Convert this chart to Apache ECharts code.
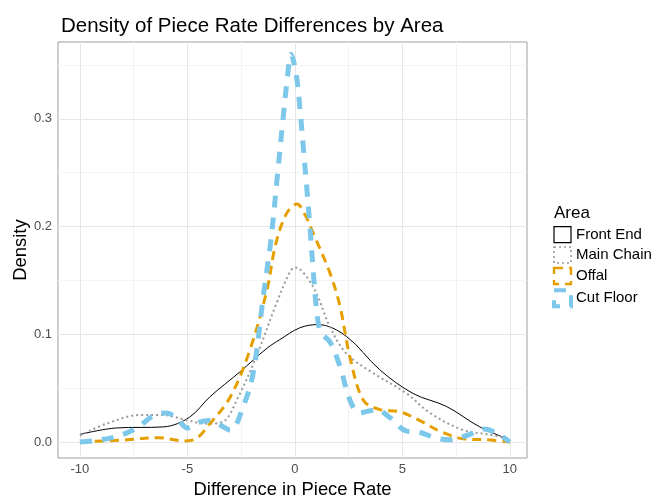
<!DOCTYPE html>
<html>
<head>
<meta charset="utf-8">
<script src="https://cdn.jsdelivr.net/npm/echarts@6/dist/echarts.min.js"></script>
<style>html,body{margin:0;padding:0;background:#fff}#c{width:661px;height:500px}</style>
</head>
<body>
<div id="c"></div>
<script>
const seriesNames = ['Front End', 'Main Chain', 'Offal', 'Cut Floor'];
const xTicks = [-10, -5, 0, 5, 10];
const yTicks = [0, 0.1, 0.2, 0.3];
const xMinor = [-7.5, -2.5, 2.5, 7.5];
const yMinor = [0.05, 0.15, 0.25, 0.35];

const frontEndX = [-10, -8.3, -6.1, -4.9, -3.95, -2.56, -1.3, -0.7, 0.23, 1.08, 2.4, 3.95, 5.5, 7.05, 8.6, 10];
const frontEndY = [0.007, 0.013, 0.014, 0.023, 0.042, 0.065, 0.087, 0.095, 0.106, 0.109, 0.098, 0.067, 0.045, 0.033, 0.014, 0.002];

const mainChainX = [-10, -8.76, -7.2, -6.1, -5.0, -4.1, -3.33, -2.7, -1.8, -0.85, -0.23, 0.0, 0.85, 1.63, 2.4, 3.64, 5.2, 6.28, 7.83, 9, 10];
const mainChainY = [0.006, 0.017, 0.025, 0.025, 0.020, 0.017, 0.019, 0.039, 0.079, 0.129, 0.158, 0.162, 0.144, 0.107, 0.082, 0.064, 0.045, 0.027, 0.011, 0.007, 0.003];

const offalX = [-10, -7.8, -6.3, -5.2, -4.7, -3.95, -3.0, -2.1, -1.3, -0.9, -0.39, 0.1, 0.5, 0.85, 1.63, 2.1, 2.56, 3.18, 3.95, 4.88, 5.8, 6.74, 7.83, 8.9, 10];
const offalY = [0.0, 0.002, 0.004, 0.001, 0.002, 0.017, 0.042, 0.085, 0.141, 0.183, 0.212, 0.221, 0.21, 0.194, 0.157, 0.126, 0.079, 0.039, 0.030, 0.028, 0.020, 0.010, 0.003, 0.002, 0.0];

const cutFloorX = [-10, -9.4, -8.3, -7.36, -6.6, -5.97, -5.5, -5.0, -4.5, -4.0, -3.5, -3.0, -2.4, -1.94, -1.47, -1.1, -0.8, -0.55, -0.35, -0.18, 0.05, 0.23, 0.39, 0.55, 0.7, 0.85, 1.0, 1.2, 1.63, 2.1, 2.56, 3.0, 3.5, 3.8, 4.4, 5.2, 5.8, 6.5, 7.2, 8.0, 8.8, 9.4, 10];
const cutFloorY = [0.0, 0.001, 0.005, 0.013, 0.024, 0.027, 0.022, 0.013, 0.018, 0.02, 0.016, 0.011, 0.033, 0.064, 0.135, 0.19, 0.25, 0.30, 0.338, 0.36, 0.343, 0.311, 0.274, 0.237, 0.2, 0.16, 0.125, 0.102, 0.093, 0.07, 0.039, 0.027, 0.029, 0.03, 0.023, 0.010, 0.009, 0.004, 0.002, 0.006, 0.012, 0.008, 0.0];

const pairs = (xs, ys) => xs.map((x, i) => [x, ys[i]]);

const styles = [
  {color: '#000000', width: 1, type: 'solid'},
  {color: '#9a9a9a', width: 2, type: [2, 3]},
  {color: '#E69F00', width: 3, type: [9, 6]},
  {color: '#7CC7EA', width: 5, type: [12, 10]}
];
const datasets = [pairs(frontEndX, frontEndY), pairs(mainChainX, mainChainY), pairs(offalX, offalY), pairs(cutFloorX, cutFloorY)];

const chart = echarts.init(document.getElementById('c'), null, {renderer: 'canvas'});

const gridSeries = {
  type: 'line', data: [], silent: true, z: 0,
  markLine: {
    silent: true, symbol: 'none', label: {show: false}, animation: false,
    data: [
      ...xMinor.map(v => ({xAxis: v, lineStyle: {color: '#f3f3f3', width: 1, type: 'solid'}})),
      ...yMinor.map(v => ({yAxis: v, lineStyle: {color: '#f3f3f3', width: 1, type: 'solid'}})),
      ...xTicks.map(v => ({xAxis: v, lineStyle: {color: '#e6e6e6', width: 1, type: 'solid'}})),
      ...yTicks.map(v => ({yAxis: v, lineStyle: {color: '#e6e6e6', width: 1, type: 'solid'}}))
    ]
  }
};

chart.setOption({
  animation: false,
  backgroundColor: '#ffffff',
  title: [
    {text: 'Density of Piece Rate Differences by Area', left: 56, top: 11,
     textStyle: {fontFamily: 'Liberation Sans', fontSize: 20.5, fontWeight: 'normal', color: '#000'}},
    {text: 'Area', left: 549, top: 200,
     textStyle: {fontFamily: 'Liberation Sans', fontSize: 17, fontWeight: 'normal', color: '#000'}}
  ],
  grid: {left: 58, right: 134, top: 42, bottom: 42, outerBoundsMode: 'none', containLabel: false,
    show: true, borderColor: '#9e9e9e', borderWidth: 1, backgroundColor: '#fff', z: 3},
  legend: {
    orient: 'vertical', left: 552, top: 226, itemWidth: 17, itemHeight: 16, itemGap: 3, padding: 0,
    textStyle: {fontFamily: 'Liberation Sans', fontSize: 15, lineHeight: 16, color: '#000'},
    data: seriesNames.map((n, i) => ({
      name: n, icon: 'rect',
      itemStyle: {color: 'rgba(0,0,0,0)', borderColor: styles[i].color, borderWidth: Math.max(1.2, styles[i].width * 0.8), borderType: styles[i].type}
    }))
  },
  xAxis: {
    type: 'value', min: -11.02, max: 10.8,
    name: 'Difference in Piece Rate', nameLocation: 'middle', nameGap: 23, nameMoveOverlap: false,
    nameTextStyle: {fontFamily: 'Liberation Sans', fontSize: 18.4, color: '#000'},
    axisLine: {show: false},
    axisTick: {show: true, length: 4, lineStyle: {color: '#333'}, customValues: xTicks},
    axisLabel: {fontFamily: 'Liberation Sans', fontSize: 13, color: '#4d4d4d', margin: 5, customValues: xTicks},
    splitLine: {show: false}
  },
  yAxis: {
    type: 'value', min: -0.0149, max: 0.3714,
    name: 'Density', nameLocation: 'middle', nameGap: 28, nameRotate: 90, nameMoveOverlap: false,
    nameTextStyle: {fontFamily: 'Liberation Sans', fontSize: 18.4, color: '#000'},
    axisLine: {show: false},
    axisTick: {show: true, length: 4, lineStyle: {color: '#333'}, customValues: yTicks},
    axisLabel: {fontFamily: 'Liberation Sans', fontSize: 13, color: '#4d4d4d', margin: 6, customValues: yTicks,
      formatter: v => v.toFixed(1)},
    splitLine: {show: false}
  },
  series: [gridSeries].concat(seriesNames.map((n, i) => ({
    name: n, type: 'line', data: datasets[i], smooth: 0.35, showSymbol: false, symbol: 'none',
    lineStyle: {color: styles[i].color, width: styles[i].width, type: styles[i].type},
    itemStyle: {color: styles[i].color}, z: 5 + i
  })))
});
</script>
</body>
</html>
